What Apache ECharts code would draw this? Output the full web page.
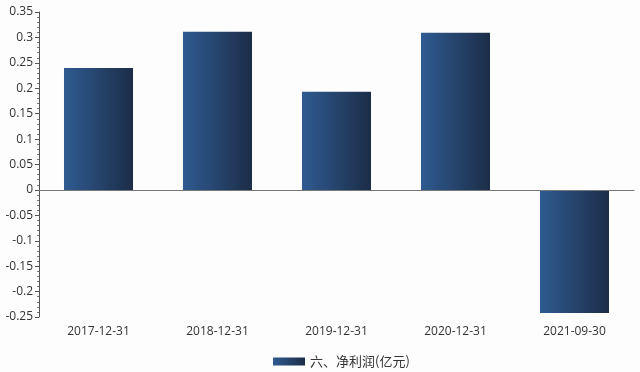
<!DOCTYPE html>
<html><head><meta charset="utf-8">
<script src="https://cdn.jsdelivr.net/npm/echarts@6/dist/echarts.min.js"></script>
<style>html,body{margin:0;padding:0;background:#fdfdfd}#c{width:640px;height:372px}</style>
</head><body><div id="c"></div>
<script>
const categories = ['2017-12-31','2018-12-31','2019-12-31','2020-12-31','2021-09-30'];
const seriesName = '六、净利润(亿元)';
const values = [0.240, 0.311, 0.193, 0.309, -0.242];

const chart = echarts.init(document.getElementById('c'));
const grad = new echarts.graphic.LinearGradient(0,0,1,0,[{offset:0,color:'#2f5b91'},{offset:1,color:'#1c2d48'}]);
chart.setOption({
  backgroundColor:'#fdfdfd',
  animation:false,
  textStyle:{fontFamily:'"Open Sans","Noto Sans CJK SC",sans-serif'},
  legend:{top:350,left:268,itemWidth:32,itemHeight:8,itemGap:10,icon:'rect',
    textStyle:{fontSize:13,color:'#333',fontFamily:'"Noto Sans CJK SC",sans-serif'},
    data:[{name:seriesName,itemStyle:{color:grad}}]},
  grid:{left:39,right:6,top:12,bottom:55},
  xAxis:{type:'category',data:categories,
    axisLine:{lineStyle:{color:'#666',width:1}},
    axisTick:{alignWithLabel:true,length:4,lineStyle:{color:'#666'}},
    axisLabel:{color:'#333',fontSize:12,margin:9}},
  yAxis:{type:'value',min:-0.25,max:0.35,interval:0.05,
    axisLine:{show:true,lineStyle:{color:'#555'}},
    axisTick:{show:true,length:4,lineStyle:{color:'#555'}},
    minorTick:{show:true,splitNumber:5,length:2,lineStyle:{color:'#777'}},
    splitLine:{show:false},
    axisLabel:{color:'#333',fontSize:12,margin:6,formatter:v=>String(parseFloat(v.toFixed(2)))}},
  series:[{name:seriesName,type:'bar',data:values,barWidth:'58%',
    itemStyle:{color:grad},
    markLine:{silent:true,symbol:'none',label:{show:false},
      lineStyle:{color:'#777',type:'solid',width:1},data:[{yAxis:0}]}}]
});
</script></body></html>
